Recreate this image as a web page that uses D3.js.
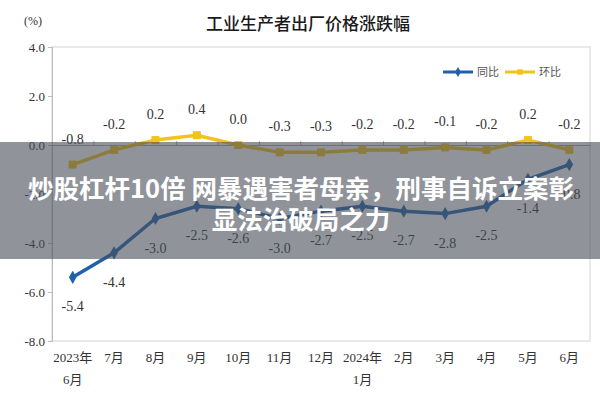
<!DOCTYPE html>
<html>
<head>
<meta charset="utf-8">
<script src="https://cdn.jsdelivr.net/npm/d3@7"></script>
<style>
  body { margin: 0; background: #fff; }
  svg text { font-family: "Liberation Serif", "Noto Sans CJK SC", serif; }
</style>
</head>
<body>
<svg id="chart" width="600" height="400"></svg>
<script>
const months = ["2023年\n6月", "7月", "8月", "9月", "10月", "11月", "12月", "2024年\n1月", "2月", "3月", "4月", "5月", "6月"];
const yoy = [-5.4, -4.4, -3.0, -2.5, -2.6, -3.0, -2.7, -2.5, -2.7, -2.8, -2.5, -1.4, -0.8];
const mom = [-0.8, -0.2, 0.2, 0.4, 0.0, -0.3, -0.3, -0.2, -0.2, -0.1, -0.2, 0.2, -0.2];
const yTicks = [4.0, 2.0, 0.0, -2.0, -4.0, -6.0, -8.0];

const svg = d3.select("#chart");
const plot = { left: 52, right: 590, top: 47, bottom: 341 };
const blue = "#2161ab", yellow = "#f2c318";

const x = d3.scaleBand().domain(d3.range(months.length)).range([plot.left, plot.right]);
const cx = i => x(i) + x.bandwidth() / 2;
const y = d3.scaleLinear().domain([-8, 4]).range([plot.bottom, plot.top]);

// title
svg.append("text")
    .attr("x", 308).attr("y", 30)
    .attr("text-anchor", "middle")
    .style("font-family", "'Noto Sans CJK SC', sans-serif")
    .style("font-size", "17px").style("font-weight", 500)
    .attr("fill", "#1a1a1a")
    .text("工业生产者出厂价格涨跌幅");
svg.append("text")
    .attr("x", 24).attr("y", 25)
    .style("font-size", "12px").attr("fill", "#333")
    .text("(%)");

// plot frame
svg.append("rect")
    .attr("x", plot.left).attr("y", plot.top)
    .attr("width", plot.right - plot.left).attr("height", plot.bottom - plot.top)
    .attr("fill", "none").attr("stroke", "#d4d4d4");

// y axis
const yAxis = svg.append("g")
    .attr("transform", `translate(${plot.left},0)`)
    .call(d3.axisLeft(y).tickValues(yTicks).tickFormat(d3.format(".1f")).tickSize(4).tickPadding(3));
yAxis.select(".domain").attr("stroke", "#bbb");
yAxis.selectAll(".tick line").attr("stroke", "#bbb");
yAxis.selectAll(".tick text")
    .style("font-size", "13px").attr("fill", "#333")
    .text(d => d3.format(".1f")(d).replace("−", "-"));

// zero line with category ticks
const zeroAxis = svg.append("g")
    .attr("transform", `translate(0,${y(0)})`)
    .call(d3.axisTop(d3.scaleLinear().domain([0, months.length]).range([plot.left, plot.right]))
        .tickValues(d3.range(1, months.length)).tickSize(4).tickFormat("").tickSizeOuter(0));
zeroAxis.select(".domain").attr("stroke", "#aaa");
zeroAxis.selectAll(".tick line").attr("stroke", "#aaa");

// x labels
const xl = svg.append("g").selectAll("text").data(months).join("text")
    .attr("x", (d, i) => cx(i)).attr("y", 362)
    .attr("text-anchor", "middle")
    .style("font-size", "13px").attr("fill", "#333");
xl.selectAll("tspan").data(d => d.split("\n")).join("tspan")
    .attr("x", function () { return this.parentNode.getAttribute("x"); })
    .attr("dy", (d, i) => i === 0 ? 0 : 22)
    .text(d => d);

// lines
const line = d3.line().x((d, i) => cx(i)).y(d => y(d));
svg.append("path").datum(mom)
    .attr("d", line).attr("fill", "none")
    .attr("stroke", yellow).attr("stroke-width", 3.5);
svg.append("g").selectAll("rect").data(mom).join("rect")
    .attr("x", (d, i) => cx(i) - 4).attr("y", d => y(d) - 4)
    .attr("width", 8).attr("height", 8).attr("fill", yellow);

svg.append("path").datum(yoy)
    .attr("d", line).attr("fill", "none")
    .attr("stroke", blue).attr("stroke-width", 3.5);
svg.append("g").selectAll("path.pt").data(yoy).join("path")
    .attr("class", "pt")
    .attr("transform", (d, i) => `translate(${cx(i)},${y(d)})`)
    .attr("d", d3.symbol(d3.symbolDiamond, 50))
    .attr("fill", blue);

// value labels
const fmt = v => d3.format(".1f")(v).replace("−", "-");
svg.append("g").selectAll("text").data(mom).join("text")
    .attr("x", (d, i) => cx(i)).attr("y", d => y(d) - 21)
    .attr("text-anchor", "middle")
    .style("font-size", "14px").attr("fill", "#333")
    .text(fmt);
svg.append("g").selectAll("text").data(yoy).join("text")
    .attr("x", (d, i) => cx(i)).attr("y", d => y(d) + 34)
    .attr("text-anchor", "middle")
    .style("font-size", "14px").attr("fill", "#333")
    .text(fmt);

// legend
const legend = svg.append("g").attr("transform", "translate(443,72)");
[["同比", blue, "diamond"], ["环比", yellow, "square"]].forEach(([name, col, shape], k) => {
    const g = legend.append("g").attr("transform", `translate(${k * 62},0)`);
    g.append("line").attr("x1", 0).attr("x2", 30).attr("stroke", col).attr("stroke-width", 3);
    g.append("path").attr("transform", "translate(15,0)")
        .attr("d", d3.symbol(shape === "diamond" ? d3.symbolDiamond : d3.symbolSquare, 30))
        .attr("fill", col);
    g.append("text").attr("x", 34).attr("y", 4)
        .style("font-family", "'Noto Sans CJK SC', sans-serif")
        .style("font-size", "11px").attr("fill", "#555")
        .text(name);
});

// overlay banner
svg.append("rect")
    .attr("x", 0).attr("y", 142).attr("width", 600).attr("height", 117)
    .attr("fill", "rgb(70,76,86)").attr("fill-opacity", 0.6);
const banner = ["炒股杠杆10倍 网暴遇害者母亲，刑事自诉立案彰", "显法治破局之力"];
svg.append("g").selectAll("text").data(banner).join("text")
    .attr("x", 301).attr("y", (d, i) => 198 + i * 31)
    .attr("text-anchor", "middle")
    .style("font-family", "'Noto Sans CJK SC', sans-serif")
    .style("font-size", "25.5px").style("font-weight", 700)
    .attr("fill", "#fff")
    .text(d => d);
</script>
</body>
</html>
